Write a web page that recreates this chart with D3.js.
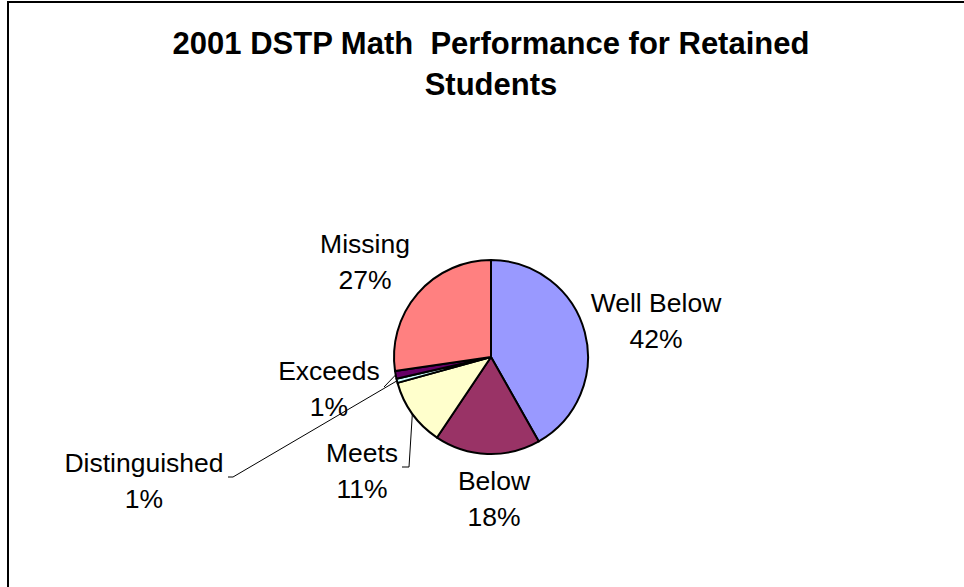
<!DOCTYPE html>
<html>
<head>
<meta charset="utf-8">
<script src="https://cdn.jsdelivr.net/npm/d3@7"></script>
<style>
  html, body { margin: 0; padding: 0; background: #fff; }
  svg { display: block; }
  text { font-family: "Liberation Sans", Arial, sans-serif; fill: #000; white-space: pre; }
</style>
</head>
<body>
<svg id="chart" width="964" height="587"></svg>
<script>
// ---- data ----
const categories = ["Well Below", "Below", "Meets", "Distinguished", "Exceeds", "Missing"];
const values = [41.8, 17.6, 11.3, 0.7, 1.3, 27.3];
const colors = ["#9999FF", "#993366", "#FFFFCC", "#CCFFFF", "#660066", "#FF8080"];
const titleLines = ["2001 DSTP Math  Performance for Retained", "Students"];

// ---- layout ----
const W = 964, H = 587;
const cx = 491, cy = 357, R = 97;
const labelPos = {
  "Well Below":    { x: 656, y: 312, leader: null },
  "Below":         { x: 494, y: 490, leader: null },
  "Meets":         { x: 362, y: 462, leader: [[409, 467], [402, 467]] },
  "Distinguished": { x: 144, y: 472, leader: [[233, 477], [228, 477]] },
  "Exceeds":       { x: 329, y: 380, leader: [[384, 387]] },
  "Missing":       { x: 365, y: 253, leader: null }
};
const lineGap = 36;

const svg = d3.select("#chart");

// frame
svg.append("path")
  .attr("d", "M8," + (H + 5) + " V2 H" + (W + 5))
  .attr("fill", "none").attr("stroke", "#000").attr("stroke-width", 2);

// title
svg.append("text")
  .attr("x", 491).attr("y", 54)
  .attr("text-anchor", "middle")
  .attr("xml:space", "preserve")
  .style("font-size", "31px").style("font-weight", "bold")
  .selectAll("tspan").data(titleLines).join("tspan")
  .attr("x", 491).attr("dy", (d, i) => i === 0 ? 0 : 41)
  .text(d => d);

// pie
const total = d3.sum(values);
const pie = d3.pie().sort(null).value(d => d.v);
const arcs = pie(categories.map((c, i) => ({ c, v: values[i], col: colors[i] })));
const arc = d3.arc().innerRadius(0).outerRadius(R);

const g = svg.append("g").attr("transform", `translate(${cx},${cy})`);
g.selectAll("path.slice").data(arcs).join("path")
  .attr("class", "slice")
  .attr("d", arc)
  .attr("fill", d => d.data.col)
  .attr("stroke", "#000")
  .attr("stroke-width", 2)
  .attr("stroke-linejoin", "round");

// leaders
const fmt = d => Math.round(d / total * 100) + "%";
arcs.forEach(a => {
  const lp = labelPos[a.data.c];
  if (!lp.leader) return;
  const mid = (a.startAngle + a.endAngle) / 2;
  const start = [cx + Math.sin(mid) * R, cy - Math.cos(mid) * R];
  const pts = [start].concat(lp.leader);
  svg.append("path")
    .attr("d", d3.line()(pts))
    .attr("fill", "none").attr("stroke", "#000").attr("stroke-width", 1);
});

// labels
arcs.forEach(a => {
  const lp = labelPos[a.data.c];
  const t = svg.append("text")
    .attr("text-anchor", "middle")
    .style("font-size", "26.5px");
  t.append("tspan").attr("x", lp.x).attr("y", lp.y).text(a.data.c);
  t.append("tspan").attr("x", lp.x).attr("y", lp.y + lineGap).text(fmt(a.data.v));
});
</script>
</body>
</html>
